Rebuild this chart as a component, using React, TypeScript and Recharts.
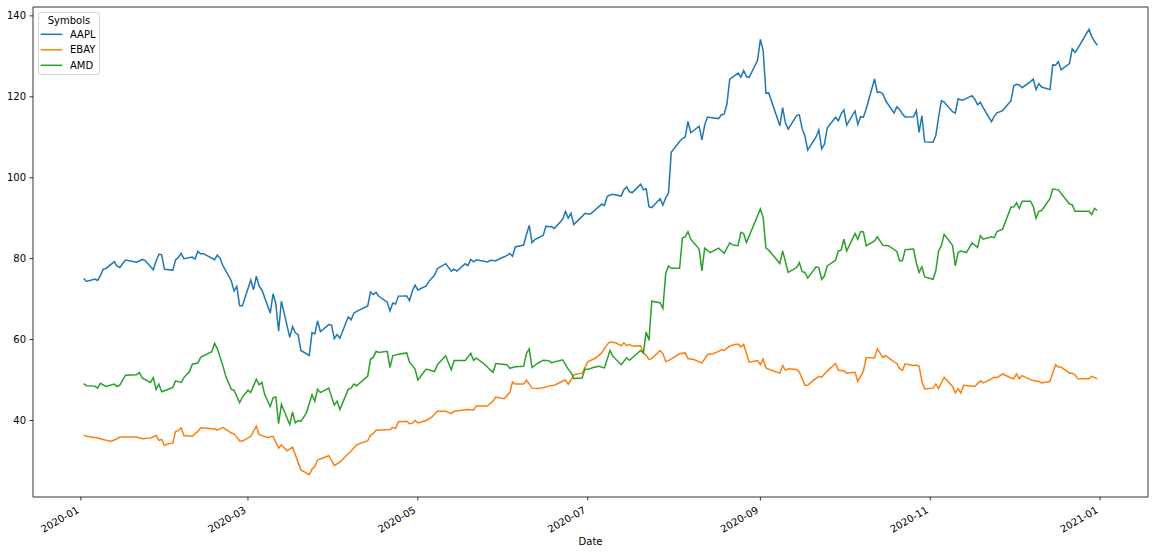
import React from 'react';
import { LineChart, Line, XAxis, YAxis, ReferenceLine } from 'recharts';

const W = 1156;
const H = 554;

const symbols = ['AAPL', 'EBAY', 'AMD'];
const colors = ['#1f77b4', '#ff7f0e', '#2ca02c'];

const xTickDates = ['2020-01-01', '2020-03-01', '2020-05-01', '2020-07-01', '2020-09-01', '2020-11-01', '2021-01-01'];
const xTickLabels = ['2020-01', '2020-03', '2020-05', '2020-07', '2020-09', '2020-11', '2021-01'];
const yTicks = [40, 60, 80, 100, 120, 140];

// [MM-DD (2020), close]
const aapl: [string, number][] = [
  ['01-02', 75.09], ['01-03', 74.36], ['01-06', 74.95], ['01-07', 74.6], ['01-08', 75.8], ['01-09', 77.41], ['01-10', 77.58],
  ['01-13', 79.24], ['01-14', 78.17], ['01-15', 77.83], ['01-16', 78.81], ['01-17', 79.68], ['01-21', 79.14], ['01-22', 79.43],
  ['01-23', 79.81], ['01-24', 79.58], ['01-27', 77.24], ['01-28', 79.42], ['01-29', 81.08], ['01-30', 80.97], ['01-31', 77.38],
  ['02-03', 77.17], ['02-04', 79.71], ['02-05', 80.36], ['02-06', 81.3], ['02-07', 80.01], ['02-10', 80.39], ['02-11', 79.9],
  ['02-12', 81.8], ['02-13', 81.22], ['02-14', 81.24], ['02-18', 79.75], ['02-19', 80.9], ['02-20', 80.07], ['02-21', 78.26],
  ['02-24', 74.54], ['02-25', 72.02], ['02-26', 73.16], ['02-27', 68.38], ['02-28', 68.34],
  ['03-02', 74.7], ['03-03', 72.33], ['03-04', 75.68], ['03-05', 73.23], ['03-06', 72.26], ['03-09', 66.54], ['03-10', 71.33],
  ['03-11', 68.86], ['03-12', 62.06], ['03-13', 69.49], ['03-16', 60.55], ['03-17', 63.22], ['03-18', 61.67], ['03-19', 61.2],
  ['03-20', 57.31], ['03-23', 56.09], ['03-24', 61.72], ['03-25', 61.38], ['03-26', 64.61], ['03-27', 61.94], ['03-30', 63.7],
  ['03-31', 63.57], ['04-01', 60.23], ['04-02', 61.23], ['04-03', 60.35], ['04-06', 65.62], ['04-07', 64.86], ['04-08', 66.52],
  ['04-09', 66.99], ['04-13', 68.31], ['04-14', 71.76], ['04-15', 71.11], ['04-16', 71.67], ['04-17', 70.7], ['04-20', 69.23],
  ['04-21', 67.09], ['04-22', 69.03], ['04-23', 68.76], ['04-24', 70.74], ['04-27', 70.79], ['04-28', 69.64], ['04-29', 71.93],
  ['04-30', 73.45], ['05-01', 72.27], ['05-04', 73.29], ['05-05', 74.39], ['05-06', 75.16], ['05-07', 75.93], ['05-08', 77.53],
  ['05-11', 78.75], ['05-12', 77.85], ['05-13', 76.91], ['05-14', 77.39], ['05-15', 76.93], ['05-18', 78.74], ['05-19', 78.29],
  ['05-20', 79.81], ['05-21', 79.21], ['05-22', 79.72], ['05-26', 79.18], ['05-27', 79.53], ['05-28', 79.56], ['05-29', 79.49],
  ['06-01', 80.46], ['06-02', 80.83], ['06-03', 81.28], ['06-04', 80.58], ['06-05', 82.88], ['06-08', 83.36], ['06-09', 85.99],
  ['06-10', 88.21], ['06-11', 83.97], ['06-12', 84.7], ['06-15', 85.75], ['06-16', 88.02], ['06-17', 87.9], ['06-18', 87.93],
  ['06-19', 87.43], ['06-22', 89.72], ['06-23', 91.63], ['06-24', 90.01], ['06-25', 91.21], ['06-26', 88.41], ['06-29', 90.45],
  ['06-30', 91.2], ['07-01', 91.03], ['07-02', 91.03], ['07-06', 93.46], ['07-07', 93.17], ['07-08', 95.34], ['07-09', 95.75],
  ['07-10', 95.92], ['07-13', 95.48], ['07-14', 97.06], ['07-15', 97.72], ['07-16', 96.52], ['07-17', 96.33], ['07-20', 98.36],
  ['07-21', 97.0], ['07-22', 97.27], ['07-23', 92.85], ['07-24', 92.61], ['07-27', 94.81], ['07-28', 93.25], ['07-29', 95.04],
  ['07-30', 96.19], ['07-31', 106.26], ['08-03', 108.94], ['08-04', 109.67], ['08-05', 110.06], ['08-06', 113.9], ['08-07', 111.11],
  ['08-10', 112.73], ['08-11', 109.38], ['08-12', 113.01], ['08-13', 115.01], ['08-14', 114.91], ['08-17', 114.61], ['08-18', 115.56],
  ['08-19', 115.71], ['08-20', 118.28], ['08-21', 124.37], ['08-24', 125.86], ['08-25', 124.83], ['08-26', 126.52], ['08-27', 125.01],
  ['08-28', 124.81], ['08-31', 129.04], ['09-01', 134.18], ['09-02', 131.4], ['09-03', 120.88], ['09-04', 120.96], ['09-08', 112.82],
  ['09-09', 117.32], ['09-10', 113.49], ['09-11', 112.0], ['09-14', 115.36], ['09-15', 115.54], ['09-16', 112.13], ['09-17', 110.34],
  ['09-18', 106.84], ['09-21', 110.08], ['09-22', 111.81], ['09-23', 107.12], ['09-24', 108.22], ['09-25', 112.28], ['09-28', 114.96],
  ['09-29', 114.09], ['09-30', 115.81], ['10-01', 116.79], ['10-02', 113.02], ['10-05', 116.5], ['10-06', 113.16], ['10-07', 115.08],
  ['10-08', 114.97], ['10-09', 116.97], ['10-12', 124.4], ['10-13', 121.1], ['10-14', 121.19], ['10-15', 120.71], ['10-16', 119.02],
  ['10-19', 115.98], ['10-20', 117.51], ['10-21', 116.87], ['10-22', 115.75], ['10-23', 115.04], ['10-26', 115.05], ['10-27', 116.6],
  ['10-28', 111.2], ['10-29', 115.32], ['10-30', 108.86], ['11-02', 108.77], ['11-03', 110.44], ['11-04', 114.95], ['11-05', 119.03],
  ['11-06', 118.69], ['11-09', 116.32], ['11-10', 115.97], ['11-11', 119.49], ['11-12', 119.21], ['11-13', 119.26], ['11-16', 120.3],
  ['11-17', 119.39], ['11-18', 118.03], ['11-19', 118.64], ['11-20', 117.34], ['11-23', 113.85], ['11-24', 115.17], ['11-25', 116.03],
  ['11-27', 116.59], ['11-30', 119.05], ['12-01', 122.72], ['12-02', 123.08], ['12-03', 122.94], ['12-04', 122.25], ['12-07', 123.75],
  ['12-08', 124.38], ['12-09', 121.78], ['12-10', 123.24], ['12-11', 122.41], ['12-14', 121.78], ['12-15', 127.88], ['12-16', 127.81],
  ['12-17', 128.7], ['12-18', 126.66], ['12-21', 128.23], ['12-22', 131.88], ['12-23', 130.96], ['12-24', 131.97], ['12-28', 136.69],
  ['12-29', 134.87], ['12-30', 133.72], ['12-31', 132.69],
];

const ebay: [string, number][] = [
  ['01-02', 36.4], ['01-03', 36.1], ['01-07', 35.7], ['01-10', 35.1], ['01-12', 34.9], ['01-14', 35.5], ['01-15', 35.9],
  ['01-21', 35.9], ['01-23', 35.5], ['01-26', 35.7], ['01-28', 36.3], ['01-29', 35.1], ['01-30', 35.3], ['01-31', 33.8],
  ['02-01', 34.2], ['02-03', 34.4], ['02-04', 37.3], ['02-05', 37.5], ['02-06', 38.2], ['02-07', 36.3], ['02-10', 36.1],
  ['02-12', 37.3], ['02-13', 38.2], ['02-18', 37.9], ['02-19', 37.6], ['02-21', 38.3], ['02-24', 36.9], ['02-25', 36.7],
  ['02-27', 35.0], ['02-28', 34.9], ['03-02', 36.1], ['03-04', 38.6], ['03-05', 36.5], ['03-08', 35.8], ['03-10', 36.1],
  ['03-12', 33.2], ['03-13', 34.0], ['03-15', 32.5], ['03-17', 33.4], ['03-20', 27.8], ['03-23', 26.6], ['03-24', 28.0],
  ['03-25', 28.6], ['03-26', 30.3], ['03-27', 30.5], ['03-30', 31.3], ['04-01', 28.9], ['04-03', 29.7], ['04-06', 31.8],
  ['04-07', 32.4], ['04-09', 34.0], ['04-13', 35.0], ['04-14', 36.3], ['04-15', 36.8], ['04-16', 37.6], ['04-21', 37.8],
  ['04-22', 38.3], ['04-23', 38.0], ['04-24', 39.7], ['04-27', 39.8], ['04-28', 39.2], ['04-29', 39.3], ['04-30', 40.0],
  ['05-01', 39.4], ['05-04', 40.0], ['05-06', 40.8], ['05-08', 42.3], ['05-11', 42.3], ['05-13', 41.7], ['05-14', 42.3],
  ['05-19', 42.7], ['05-21', 42.6], ['05-22', 43.6], ['05-26', 43.6], ['05-28', 44.8], ['05-29', 45.8], ['06-01', 45.4],
  ['06-03', 46.9], ['06-04', 49.5], ['06-05', 49.0], ['06-08', 49.0], ['06-09', 50.0], ['06-11', 48.0], ['06-13', 47.9],
  ['06-15', 48.1], ['06-17', 48.5], ['06-19', 48.7], ['06-21', 49.4], ['06-23', 50.0], ['06-24', 49.0], ['06-25', 50.0],
  ['06-26', 51.3], ['06-29', 51.7], ['07-01', 54.5], ['07-04', 55.5], ['07-06', 56.7], ['07-08', 58.8], ['07-09', 59.4],
  ['07-11', 59.2], ['07-13', 58.5], ['07-14', 59.2], ['07-15', 58.5], ['07-16', 58.8], ['07-17', 58.4], ['07-20', 58.5],
  ['07-21', 56.7], ['07-22', 56.1], ['07-23', 55.1], ['07-24', 55.3], ['07-27', 57.3], ['07-28', 56.5], ['07-29', 54.6],
  ['07-30', 54.8], ['08-03', 56.5], ['08-05', 56.7], ['08-06', 55.3], ['08-08', 55.1], ['08-11', 54.2], ['08-13', 56.3],
  ['08-15', 56.5], ['08-17', 57.1], ['08-18', 57.5], ['08-19', 57.3], ['08-20', 57.9], ['08-21', 58.4], ['08-23', 58.8],
  ['08-24', 58.9], ['08-25', 58.2], ['08-26', 58.8], ['08-28', 54.4], ['08-31', 54.8], ['09-01', 53.8], ['09-02', 55.2],
  ['09-03', 53.0], ['09-05', 52.4], ['09-08', 51.7], ['09-09', 53.6], ['09-10', 52.4], ['09-11', 52.8], ['09-14', 52.6],
  ['09-15', 52.0], ['09-17', 48.7], ['09-18', 48.7], ['09-20', 49.9], ['09-22', 50.9], ['09-23', 50.7], ['09-25', 52.2],
  ['09-28', 54.1], ['09-29', 52.4], ['10-01', 52.3], ['10-02', 51.7], ['10-05', 51.9], ['10-06', 49.7], ['10-08', 52.2],
  ['10-09', 55.5], ['10-12', 55.5], ['10-13', 57.7], ['10-15', 55.6], ['10-16', 56.0], ['10-19', 54.5], ['10-20', 54.1],
  ['10-21', 52.8], ['10-22', 52.4], ['10-23', 54.0], ['10-26', 53.6], ['10-27', 53.7], ['10-28', 53.4], ['10-29', 49.7],
  ['10-30', 47.8], ['11-02', 48.0], ['11-03', 49.0], ['11-04', 47.9], ['11-06', 50.7], ['11-09', 48.4], ['11-10', 46.8],
  ['11-11', 47.9], ['11-12', 46.8], ['11-13', 48.7], ['11-17', 48.4], ['11-19', 49.8], ['11-20', 49.3], ['11-22', 49.9],
  ['11-24', 50.7], ['11-25', 50.6], ['11-27', 51.5], ['11-30', 50.5], ['12-01', 50.3], ['12-02', 51.5], ['12-03', 50.3],
  ['12-04', 51.1], ['12-07', 50.1], ['12-09', 49.7], ['12-10', 49.7], ['12-11', 49.3], ['12-14', 49.7], ['12-16', 53.8],
  ['12-17', 53.2], ['12-18', 53.2], ['12-21', 51.7], ['12-22', 51.7], ['12-23', 51.3], ['12-24', 50.3], ['12-28', 50.3],
  ['12-29', 50.9], ['12-31', 50.3],
];

const amd: [string, number][] = [
  ['01-02', 49.1], ['01-03', 48.6], ['01-06', 48.5], ['01-07', 48.0], ['01-08', 49.2], ['01-10', 48.4], ['01-13', 49.0],
  ['01-14', 48.4], ['01-15', 48.8], ['01-17', 51.2], ['01-21', 51.3], ['01-22', 51.9], ['01-23', 50.5], ['01-26', 49.4],
  ['01-27', 50.6], ['01-28', 47.7], ['01-29', 49.0], ['01-30', 47.1], ['02-01', 47.6], ['02-03', 48.2], ['02-04', 49.8],
  ['02-06', 49.4], ['02-07', 50.6], ['02-09', 52.1], ['02-10', 53.9], ['02-12', 54.2], ['02-13', 55.6], ['02-17', 57.0],
  ['02-18', 59.1], ['02-19', 57.7], ['02-21', 53.5], ['02-22', 51.0], ['02-24', 47.7], ['02-25', 47.5], ['02-27', 44.4],
  ['02-28', 45.8], ['03-01', 47.5], ['03-02', 46.9], ['03-04', 50.2], ['03-05', 48.8], ['03-06', 49.4], ['03-07', 46.4],
  ['03-09', 43.4], ['03-10', 45.6], ['03-11', 45.8], ['03-12', 39.2], ['03-13', 44.0], ['03-16', 39.0], ['03-17', 42.1],
  ['03-18', 39.4], ['03-19', 40.0], ['03-20', 39.8], ['03-22', 41.9], ['03-24', 46.4], ['03-25', 44.8], ['03-26', 47.7],
  ['03-27', 46.9], ['03-30', 48.0], ['04-01', 43.8], ['04-02', 44.8], ['04-03', 42.7], ['04-06', 47.7], ['04-07', 48.0],
  ['04-08', 49.0], ['04-09', 48.6], ['04-13', 51.0], ['04-14', 55.2], ['04-15', 55.6], ['04-16', 57.1], ['04-17', 56.8],
  ['04-20', 57.1], ['04-21', 53.1], ['04-22', 56.0], ['04-24', 56.4], ['04-27', 56.7], ['04-28', 54.4], ['04-30', 52.7],
  ['05-01', 50.0], ['05-04', 52.7], ['05-07', 52.1], ['05-08', 53.8], ['05-11', 56.0], ['05-13', 52.5], ['05-14', 54.8],
  ['05-18', 54.8], ['05-20', 56.6], ['05-21', 54.9], ['05-22', 55.4], ['05-25', 53.9], ['05-27', 52.5], ['05-28', 51.9],
  ['05-29', 54.1], ['06-02', 53.8], ['06-03', 52.9], ['06-05', 53.3], ['06-08', 53.4], ['06-09', 56.6], ['06-10', 57.7],
  ['06-11', 53.1], ['06-13', 54.1], ['06-15', 54.9], ['06-17', 54.8], ['06-18', 54.3], ['06-22', 55.0], ['06-24', 52.7],
  ['06-25', 51.9], ['06-26', 50.4], ['06-29', 50.5], ['06-30', 52.7], ['07-01', 52.6], ['07-03', 53.1], ['07-05', 53.4],
  ['07-07', 53.0], ['07-09', 57.3], ['07-10', 55.9], ['07-13', 53.8], ['07-15', 55.5], ['07-16', 54.9], ['07-20', 57.3],
  ['07-21', 56.7], ['07-22', 61.9], ['07-23', 59.8], ['07-24', 69.5], ['07-27', 69.1], ['07-28', 67.7], ['07-29', 76.3],
  ['07-30', 78.2], ['07-31', 77.6], ['08-03', 77.6], ['08-04', 85.1], ['08-05', 85.4], ['08-06', 86.7], ['08-07', 84.8],
  ['08-10', 82.4], ['08-11', 77.0], ['08-12', 82.6], ['08-14', 81.5], ['08-17', 82.6], ['08-19', 81.3], ['08-21', 83.9],
  ['08-22', 83.4], ['08-24', 83.2], ['08-25', 86.5], ['08-26', 86.2], ['08-27', 84.0], ['09-01', 92.3], ['09-02', 90.2],
  ['09-03', 82.6], ['09-04', 82.1], ['09-08', 78.8], ['09-09', 81.9], ['09-11', 76.6], ['09-14', 77.8], ['09-15', 79.0],
  ['09-16', 76.8], ['09-17', 76.6], ['09-18', 75.2], ['09-21', 78.0], ['09-22', 77.8], ['09-23', 74.9], ['09-24', 75.7],
  ['09-25', 78.2], ['09-28', 79.6], ['09-29', 81.9], ['09-30', 82.1], ['10-01', 84.8], ['10-02', 81.9], ['10-05', 86.2],
  ['10-06', 84.8], ['10-07', 86.7], ['10-08', 86.6], ['10-09', 83.2], ['10-12', 84.4], ['10-13', 85.4], ['10-15', 83.3],
  ['10-17', 83.2], ['10-20', 81.8], ['10-21', 79.5], ['10-22', 79.5], ['10-23', 82.2], ['10-26', 82.4], ['10-27', 79.0],
  ['10-28', 76.6], ['10-29', 78.0], ['10-30', 75.5], ['11-02', 74.9], ['11-03', 77.0], ['11-04', 81.9], ['11-05', 83.2],
  ['11-06', 86.0], ['11-09', 83.3], ['11-10', 78.2], ['11-11', 81.5], ['11-12', 81.9], ['11-14', 81.5], ['11-16', 83.9],
  ['11-18', 82.8], ['11-19', 85.7], ['11-20', 84.8], ['11-23', 85.4], ['11-24', 85.2], ['11-25', 86.7], ['11-27', 87.3],
  ['11-30', 92.7], ['12-01', 92.8], ['12-02', 93.8], ['12-03', 92.4], ['12-04', 94.2], ['12-07', 94.2], ['12-08', 92.9],
  ['12-09', 90.0], ['12-10', 91.7], ['12-11', 91.9], ['12-14', 94.8], ['12-15', 97.2], ['12-17', 97.0], ['12-21', 93.5],
  ['12-22', 93.3], ['12-23', 91.7], ['12-28', 91.7], ['12-29', 90.9], ['12-30', 92.4], ['12-31', 91.9],
];

const seriesData: [string, number][][] = [aapl, ebay, amd];

const dayOfIso = (iso: string) => {
  const [y, m, d] = iso.split('-').map(Number);
  return (Date.UTC(y, m - 1, d) - Date.UTC(2020, 0, 1)) / 86400000;
};
const dayOfMd = (md: string) => dayOfIso('2020-' + md);

// merge all series into one table keyed by day
const rowMap = new Map<number, any>();
seriesData.forEach((arr, si) => {
  arr.forEach(([md, v]) => {
    const x = dayOfMd(md);
    if (!rowMap.has(x)) rowMap.set(x, { x });
    rowMap.get(x)[symbols[si]] = v;
  });
});
const rows = Array.from(rowMap.values()).sort((a, b) => a.x - b.x);

const allX = rows.map((r) => r.x);
const allY = seriesData.flat().map((p) => p[1]);
const xMinD = Math.min(...allX), xMaxD = Math.max(...allX);
const yMinD = Math.min(...allY), yMaxD = Math.max(...allY);
const xPad = (xMaxD - xMinD) * 0.05;
const yPad = (yMaxD - yMinD) * 0.05;
const xDomain: [number, number] = [xMinD - xPad, xMaxD + xPad];
const yDomain: [number, number] = [yMinD - yPad, yMaxD + yPad];
const xTicks = xTickDates.map(dayOfIso);

const FONT = 'DejaVu Sans, sans-serif';
const PLOT_BOTTOM = 497;

const XTick = (props: any) => {
  const { x, payload } = props;
  const i = xTicks.indexOf(payload.value);
  const tx = x - 1.2;
  const ty = PLOT_BOTTOM + 15;
  return (
    <text x={tx} y={ty} transform={`rotate(-30, ${tx}, ${ty})`} textAnchor="end" fontSize={10} fontFamily={FONT} fill="#000">
      {xTickLabels[i]}
    </text>
  );
};

const DateLabel = () => (
  <text x={590.5} y={545} textAnchor="middle" fontSize={10} fontFamily={FONT} fill="#000">
    Date
  </text>
);

const LegendBox = () => (
  <div
    style={{
      position: 'absolute',
      left: 38,
      top: 12,
      width: 62,
      height: 63,
      boxSizing: 'border-box',
      border: '1px solid #d6d6d6',
      borderRadius: 3,
      background: '#fff',
    }}
  >
    <svg width={62} height={63} style={{ position: 'absolute', left: -1, top: -1 }}>
      <text x={31} y={12.3} textAnchor="middle" fontSize={10} fontFamily={FONT} fill="#000">
        Symbols
      </text>
      {symbols.map((s, i) => {
        const cy = 22.3 + i * 15.5;
        return (
          <g key={s}>
            <line x1={2.7} x2={24.3} y1={cy} y2={cy} stroke={colors[i]} strokeWidth={1.5} />
            <text x={32} y={cy + 3.6} fontSize={10} fontFamily={FONT} fill="#000">
              {s}
            </text>
          </g>
        );
      })}
    </svg>
  </div>
);

export default function App() {
  return (
    <div style={{ position: 'absolute', left: 0, top: 0, width: W, height: H, background: '#fff' }}>
      <LineChart width={W} height={H} data={rows} margin={{ top: 7, right: 8, bottom: 0, left: 0 }}>
        <XAxis
          dataKey="x"
          type="number"
          domain={xDomain}
          allowDataOverflow
          ticks={xTicks}
          interval={0}
          tick={<XTick />}
          tickSize={3.5}
          tickMargin={0}
          height={57}
          axisLine={{ stroke: '#000', strokeWidth: 0.8 }}
          tickLine={{ stroke: '#000', strokeWidth: 0.8 }}
          label={<DateLabel />}
        />
        <YAxis
          type="number"
          domain={yDomain}
          allowDataOverflow
          ticks={yTicks}
          interval={0}
          width={33}
          tickSize={3.5}
          tickMargin={3.5}
          tick={{ fontSize: 10, fontFamily: FONT, fill: '#000' }}
          axisLine={{ stroke: '#000', strokeWidth: 0.8 }}
          tickLine={{ stroke: '#000', strokeWidth: 0.8 }}
        />
        <ReferenceLine y={yDomain[1]} stroke="#000" strokeWidth={0.8} ifOverflow="visible" />
        <ReferenceLine x={xDomain[1]} stroke="#000" strokeWidth={0.8} ifOverflow="visible" />
        {symbols.map((s, i) => (
          <Line
            key={s}
            dataKey={s}
            type="linear"
            stroke={colors[i]}
            strokeWidth={1.5}
            dot={false}
            activeDot={false}
            connectNulls
            isAnimationActive={false}
          />
        ))}
      </LineChart>
      <LegendBox />
    </div>
  );
}
